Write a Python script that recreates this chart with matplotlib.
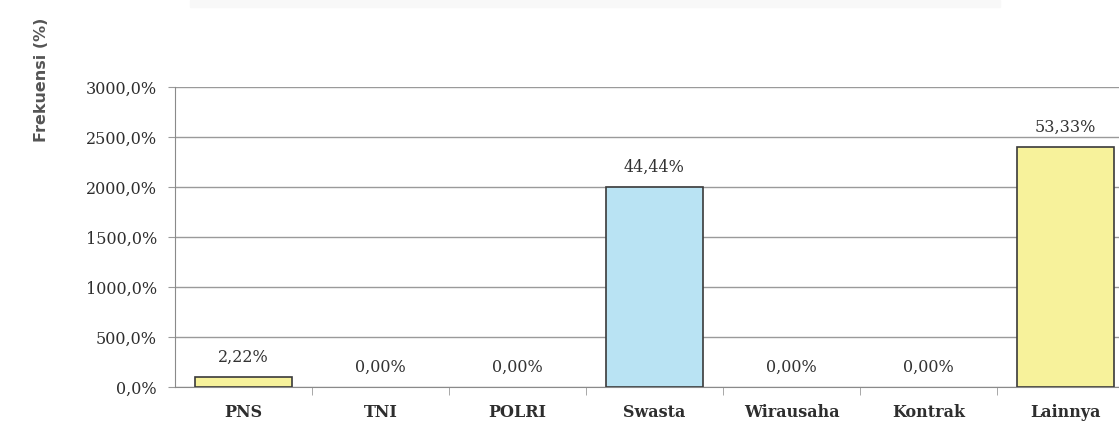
import matplotlib.pyplot as plt
from matplotlib.patches import Rectangle
from matplotlib.ticker import FuncFormatter, FixedLocator

categories = ['PNS', 'TNI', 'POLRI', 'Swasta', 'Wirausaha', 'Kontrak', 'Lainnya']
values = [100, 0, 0, 2000, 0, 0, 2400]
value_labels = ['2,22%', '0,00%', '0,00%', '44,44%', '0,00%', '0,00%', '53,33%']
bar_colors = ['#f7f29b', '#f7f29b', '#f7f29b', '#b9e3f3', '#f7f29b', '#f7f29b', '#f7f29b']
y_ticks = [0, 500, 1000, 1500, 2000, 2500, 3000]

W, H = 1119, 425
fig = plt.figure(figsize=(W / 100, H / 100), dpi=100)

# faint remains of the title box at the top
fig.patches.append(Rectangle((190 / W, 1 - 7 / H), 810 / W, 7 / H,
                             transform=fig.transFigure, color='#f8f8f8', zorder=0))

# axes run past the right edge of the picture, like the reference
ax = fig.add_axes([175 / W, 1 - 387 / H, 959 / W, 300 / H])

x = list(range(len(categories)))
edge_w = [1.2 if v > 0 else 0 for v in values]
ax.bar(x, values, width=0.71, color=bar_colors, edgecolor='#3a3a3a', linewidth=edge_w, zorder=3)

for xi, v, lab in zip(x, values, value_labels):
    ax.text(xi, v + 110, lab, ha='center', va='bottom', fontsize=11.5,
            family='DejaVu Serif', color='#333333')

ax.set_xlim(-0.5, len(categories) - 0.5)
ax.set_ylim(0, 3000)
ax.set_yticks(y_ticks)
ax.yaxis.set_major_formatter(FuncFormatter(lambda v, p: ('%.1f%%' % v).replace('.', ',')))
ax.grid(axis='y', color='#9a9a9a', linewidth=1.0, zorder=0)

ax.set_xticks(x)
ax.set_xticklabels(categories)
ax.xaxis.set_minor_locator(FixedLocator([i + 0.5 for i in x]))
ax.tick_params(axis='x', which='major', length=0, pad=12)
ax.tick_params(axis='x', which='minor', length=6, color='#9a9a9a', direction='out')
ax.tick_params(axis='y', length=5, color='#9a9a9a', pad=8)

for lab in ax.get_xticklabels() + ax.get_yticklabels():
    lab.set_family('DejaVu Serif')
    lab.set_fontsize(11.5)
    lab.set_color('#2e2e2e')
for lab in ax.get_xticklabels():
    lab.set_fontweight('bold')

for side in ['top', 'right']:
    ax.spines[side].set_visible(False)
ax.spines['left'].set_color('#8a8a8a')
ax.spines['bottom'].set_color('#8a8a8a')

fig.text(42 / W, 1 - 80 / H, 'Frekuensi (%)', rotation=90, ha='center', va='center',
         fontsize=11.5, color='#555555', family='DejaVu Sans', fontweight='bold')

fig.savefig('out.png', dpi=100)
